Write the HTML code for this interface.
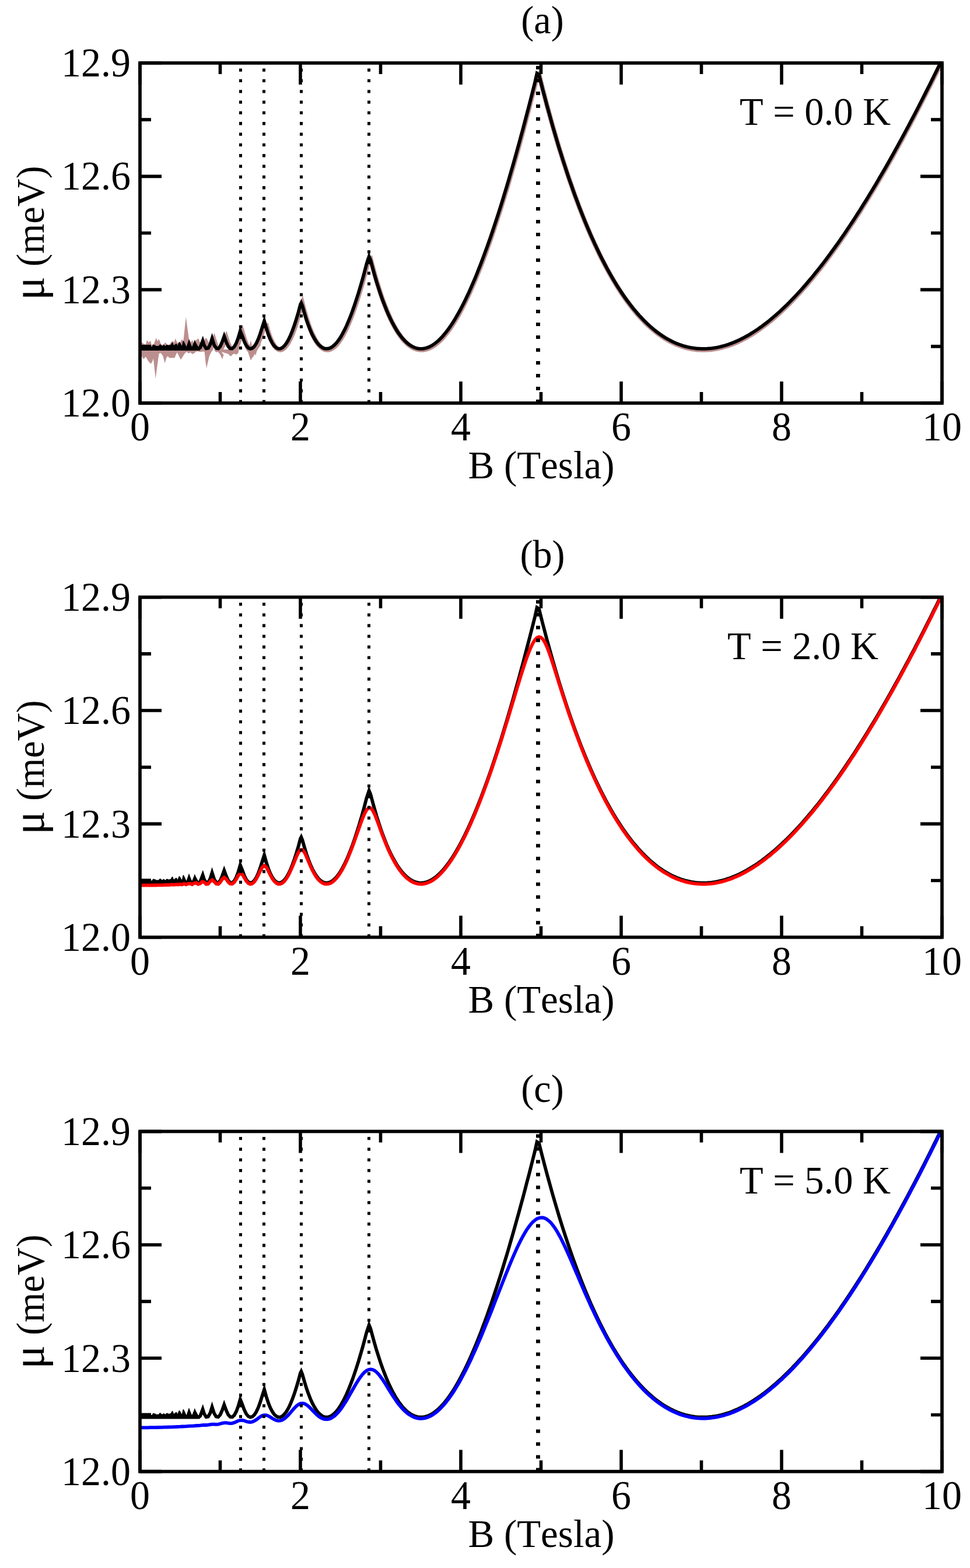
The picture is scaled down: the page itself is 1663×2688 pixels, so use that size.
<!DOCTYPE html>
<html lang="en">
<head>
<meta charset="utf-8">
<title>Chemical potential vs magnetic field</title>
<style>
html,body{margin:0;padding:0;background:#fff;}
body{width:1663px;height:2688px;overflow:hidden;}
svg{display:block;}
</style>
</head>
<body>
<svg width="1663" height="2688" viewBox="0 0 1663 2688">
<rect x="0" y="0" width="1663" height="2688" fill="#fff"/>
<defs><clipPath id="kclip"><path d="M240,100 H400 V600.9 H240Z M400,100 H1620 V700 H400Z"/></clipPath></defs>
<g transform="translate(0,0)">
<clipPath id="clip0"><rect x="240" y="108" width="1375" height="583"/></clipPath>
<g clip-path="url(#clip0)" fill="none" stroke-linejoin="miter" stroke-miterlimit="12">
<path d="M240.4,595.6 L242.9,586.1 L243.9,587.7 L246.6,589.3 L249.8,590.8 L251.9,582.9 L254.5,587.1 L256.6,585.6 L258.2,584.0 L259.8,591.4 L264.0,589.3 L267.7,579.2 L269.9,585.0 L272.5,581.3 L275.7,589.3 L278.3,591.4 L281.5,589.3 L284.1,587.1 L286.8,591.4 L291.0,590.3 L293.7,586.1 L296.8,584.5 L298.4,587.7 L300.6,580.3 L303.7,587.1 L306.9,589.3 L310.1,585.0 L311.7,581.3 L314.3,585.0 L315.9,570.2 L318.8,543.2 L321.7,564.9 L323.8,580.8 L327.0,586.1 L330.2,589.3 L334.4,585.0 L337.6,581.9 L340.2,580.3 L342.9,587.1 L347.1,593.5 L351.3,580.8 L354.0,579.2 L356.6,585.0 L359.8,589.3 L363.0,595.6 L363.0,598.0 L396.0,608.3 L391.6,605.1 L387.3,603.0 L383.6,608.3 L381.0,615.7 L377.8,608.3 L373.6,603.0 L370.4,604.1 L366.2,598.8 L363.0,602.0 L358.8,610.4 L356.1,622.1 L354.0,631.6 L352.4,619.9 L350.8,604.1 L348.2,600.9 L345.0,603.5 L340.8,602.0 L335.5,603.0 L332.3,606.2 L329.1,606.7 L327.0,604.1 L322.8,605.7 L320.7,603.0 L317.5,605.1 L313.2,611.5 L310.1,616.8 L306.9,610.4 L303.7,604.1 L301.6,608.3 L299.5,613.6 L290.0,613.6 L287.9,610.4 L285.7,612.5 L282.6,622.6 L279.4,610.4 L275.7,605.1 L272.5,606.2 L269.9,625.2 L266.7,649.0 L263.0,614.7 L261.4,618.9 L258.8,623.7 L254.5,619.4 L249.8,611.5 L246.1,615.7 L242.9,610.4 L240.4,595.6Z M380.0,599.0 L380.0,603.8 L383.6,608.6 L387.1,603.8 L390.7,606.2 L395.5,611.0 L399.0,607.4 L401.4,606.2 L405.0,608.0 L408.6,605.0 L410.4,594.3 L403.8,597.3 L393.1,599.0Z M419.3,587.1 L419.9,595.5 L421.7,599.0 L425.2,603.8 L427.6,611.0 L430.0,618.1 L432.4,613.3 L434.8,611.0 L436.5,606.2 L438.3,609.8 L440.1,602.6 L441.9,599.0 L446.7,591.9 L446.7,575.2 L441.9,587.1 L434.8,596.7 L429.4,599.0 L425.2,596.7Z M427.0,597.3 L430.0,583.0 L433.0,597.3Z" fill="#bc8f8f" stroke="none"/><path d="M240.0,599.7 L281.2,598.9 L284.7,599.6 L288.1,599.7 L291.6,599.7 L295.0,599.5 L298.4,598.0 L301.9,596.5 L305.3,599.5 L308.8,597.9 L312.2,597.7 L315.6,598.8 L319.1,597.2 L322.5,597.7 L325.9,598.8 L329.4,592.2 L332.8,599.4 L336.3,597.1 L339.7,591.2 L343.1,598.9 L346.6,598.6 L350.0,591.0 L353.4,593.0 L356.9,599.1 L360.3,598.8 L363.8,592.6 L367.2,583.3 L370.6,593.8 L374.1,599.0 L377.5,599.3 L380.9,594.9 L384.4,586.4 L387.8,578.8 L391.3,589.7 L394.7,596.5 L398.1,599.5 L401.6,599.0 L405.0,595.0 L408.4,587.9 L411.9,577.8 L415.3,569.0 L418.8,580.8 L422.2,589.7 L425.6,595.7 L429.1,598.9 L432.5,599.7 L435.9,598.0 L439.4,594.0 L442.8,587.8 L446.3,579.5 L449.7,569.2 L453.1,557.1 L456.6,557.7 L460.0,569.4 L463.4,579.1 L466.9,586.8 L470.3,592.6 L473.8,596.7 L477.2,599.0 L480.6,599.7 L484.1,598.8 L487.5,596.4 L490.9,592.6 L494.4,587.4 L497.8,580.8 L501.3,573.0 L504.7,563.9 L508.1,553.6 L511.6,542.2 L515.0,529.7 L518.4,520.3 L521.9,533.3 L525.3,545.1 L528.8,555.6 L532.2,564.8 L535.6,572.9 L539.1,579.9 L542.5,585.7 L545.9,590.5 L549.4,594.2 L552.8,597.0 L556.3,598.8 L559.7,599.6 L563.1,599.6 L566.6,598.7 L570.0,596.9 L573.4,594.3 L576.9,590.9 L580.3,586.7 L583.8,581.8 L587.2,576.2 L590.6,569.8 L594.1,562.8 L597.5,555.1 L600.9,546.7 L604.4,537.7 L607.8,528.1 L611.3,517.9 L614.7,507.2 L618.1,495.8 L621.6,483.9 L625.0,471.5 L628.4,458.6 L631.9,445.1 L635.3,443.7 L638.8,457.0 L642.2,469.6 L645.6,481.5 L649.1,492.7 L652.5,503.3 L655.9,513.2 L659.4,522.6 L662.8,531.3 L666.3,539.4 L669.7,547.0 L673.1,554.0 L676.6,560.4 L680.0,566.3 L683.4,571.7 L686.9,576.6 L690.3,581.0 L693.8,584.9 L697.2,588.3 L700.6,591.2 L704.1,593.7 L707.5,595.8 L710.9,597.4 L714.4,598.6 L717.8,599.3 L721.3,599.7 L724.7,599.6 L728.1,599.2 L731.6,598.4 L735.0,597.2 L738.4,595.6 L741.9,593.7 L745.3,591.4 L748.8,588.8 L752.2,585.8 L755.6,582.5 L759.1,578.9 L762.5,574.9 L765.9,570.7 L769.4,566.1 L772.8,561.3 L776.3,556.1 L779.7,550.6 L783.1,544.9 L786.6,538.9 L790.0,532.6 L793.4,526.0 L796.9,519.2 L800.3,512.1 L803.8,504.8 L807.2,497.2 L810.6,489.4 L814.1,481.3 L817.5,473.0 L820.9,464.5 L824.4,455.7 L827.8,446.7 L831.3,437.5 L834.7,428.1 L838.1,418.4 L841.6,408.6 L845.0,398.5 L848.4,388.3 L851.9,377.8 L855.3,367.2 L858.8,356.3 L862.2,345.3 L865.6,334.1 L869.1,322.7 L872.5,311.1 L875.9,299.3 L879.4,287.4 L882.8,275.3 L886.3,263.0 L889.7,250.6 L893.1,238.0 L896.6,225.2 L900.0,212.3 L903.4,199.2 L906.9,186.0 L910.3,172.6 L913.8,159.1 L917.2,145.4 L920.6,131.6 L924.1,127.4 L927.5,141.2 L930.9,154.6 L934.4,167.8 L937.8,180.8 L941.3,193.4 L944.7,205.8 L948.1,218.0 L951.6,229.9 L955.0,241.5 L958.4,253.0 L961.9,264.1 L965.3,275.0 L968.8,285.7 L972.2,296.2 L975.6,306.4 L979.1,316.4 L982.5,326.2 L985.9,335.8 L989.4,345.1 L992.8,354.3 L996.3,363.2 L999.7,371.9 L1003.1,380.5 L1006.6,388.8 L1010.0,396.9 L1013.4,404.8 L1016.9,412.5 L1020.3,420.1 L1023.8,427.4 L1027.2,434.6 L1030.6,441.6 L1034.1,448.4 L1037.5,455.0 L1040.9,461.4 L1044.4,467.7 L1047.8,473.8 L1051.3,479.7 L1054.7,485.5 L1058.1,491.0 L1061.6,496.5 L1065.0,501.7 L1068.4,506.8 L1071.9,511.8 L1075.3,516.6 L1078.8,521.2 L1082.2,525.7 L1085.6,530.0 L1089.1,534.2 L1092.5,538.3 L1095.9,542.2 L1099.4,545.9 L1102.8,549.5 L1106.3,553.0 L1109.7,556.3 L1113.1,559.5 L1116.6,562.6 L1120.0,565.5 L1123.4,568.3 L1126.9,571.0 L1130.3,573.5 L1133.8,576.0 L1137.2,578.3 L1140.6,580.4 L1144.1,582.5 L1147.5,584.4 L1150.9,586.2 L1154.4,587.9 L1157.8,589.4 L1161.3,590.9 L1164.7,592.2 L1168.1,593.4 L1171.6,594.5 L1175.0,595.5 L1178.4,596.4 L1181.9,597.2 L1185.3,597.9 L1188.8,598.4 L1192.2,598.9 L1195.6,599.3 L1199.1,599.5 L1202.5,599.7 L1205.9,599.7 L1209.4,599.7 L1212.8,599.5 L1216.3,599.3 L1219.7,598.9 L1223.1,598.5 L1226.6,598.0 L1230.0,597.3 L1233.4,596.6 L1236.9,595.8 L1240.3,594.9 L1243.8,593.9 L1247.2,592.9 L1250.6,591.7 L1254.1,590.5 L1257.5,589.1 L1260.9,587.7 L1264.4,586.2 L1267.8,584.6 L1271.3,582.9 L1274.7,581.2 L1278.1,579.3 L1281.6,577.4 L1285.0,575.4 L1288.4,573.4 L1291.9,571.2 L1295.3,569.0 L1298.8,566.7 L1302.2,564.3 L1305.6,561.8 L1309.1,559.3 L1312.5,556.7 L1315.9,554.0 L1319.4,551.3 L1322.8,548.5 L1326.3,545.6 L1329.7,542.6 L1333.1,539.6 L1336.6,536.5 L1340.0,533.3 L1343.4,530.1 L1346.9,526.8 L1350.3,523.4 L1353.8,520.0 L1357.2,516.5 L1360.6,512.9 L1364.1,509.3 L1367.5,505.6 L1370.9,501.9 L1374.4,498.1 L1377.8,494.2 L1381.3,490.3 L1384.7,486.3 L1388.1,482.2 L1391.6,478.1 L1395.0,473.9 L1398.4,469.7 L1401.9,465.4 L1405.3,461.1 L1408.8,456.7 L1412.2,452.2 L1415.6,447.7 L1419.1,443.1 L1422.5,438.5 L1425.9,433.8 L1429.4,429.1 L1432.8,424.3 L1436.3,419.4 L1439.7,414.6 L1443.1,409.6 L1446.6,404.6 L1450.0,399.6 L1453.4,394.5 L1456.9,389.3 L1460.3,384.1 L1463.8,378.9 L1467.2,373.6 L1470.6,368.3 L1474.1,362.9 L1477.5,357.4 L1480.9,351.9 L1484.4,346.4 L1487.8,340.8 L1491.3,335.2 L1494.7,329.5 L1498.1,323.8 L1501.6,318.0 L1505.0,312.2 L1508.4,306.4 L1511.9,300.5 L1515.3,294.5 L1518.8,288.6 L1522.2,282.5 L1525.6,276.5 L1529.1,270.4 L1532.5,264.2 L1535.9,258.0 L1539.4,251.8 L1542.8,245.5 L1546.3,239.2 L1549.7,232.8 L1553.1,226.4 L1556.6,220.0 L1560.0,213.5 L1563.4,207.0 L1566.9,200.5 L1570.3,193.9 L1573.8,187.2 L1577.2,180.6 L1580.6,173.9 L1584.1,167.1 L1587.5,160.3 L1590.9,153.5 L1594.4,146.7 L1597.8,139.8 L1601.3,132.9 L1604.7,125.9 L1608.1,118.9 L1611.6,111.9 L1615.0,104.8" stroke="#bc8f8f" stroke-width="8.2"/>
<g clip-path="url(#kclip)"><path d="M240.0,590.9 L259.0,590.9 L259.1,593.9 L260.9,593.9 L261.4,592.1 L262.7,590.8 L264.0,591.0 L264.8,592.1 L265.6,590.8 L267.2,592.9 L272.0,592.9 L274.4,590.0 L276.5,591.8 L278.3,592.9 L280.7,590.8 L283.4,593.2 L285.2,591.0 L287.6,591.0 L288.4,591.8 L290.8,591.8 L291.3,590.8 L292.3,591.8 L294.2,588.4 L295.5,586.8 L296.8,588.4 L297.4,591.0 L298.4,591.8 L301.9,588.9 L304.0,590.5 L304.5,592.9 L305.3,590.0 L306.4,587.1 L307.4,586.0 L308.8,587.3 L310.9,591.0 L311.7,592.9 L312.5,590.0 L313.2,585.7 L314.6,583.9 L316.0,586.5 L319.6,594.3 L322.6,585.5 L324.0,581.3 L325.4,585.5 L329.1,594.5 L332.4,586.5 L333.9,582.2 L335.4,586.5 L340.0,594.6 L343.0,595.0 L343.0,600.8 L240.0,600.8 Z" fill="#000" stroke="none"/><path d="M240.0,597.9 L243.4,597.9 L246.9,597.9 L250.3,597.9 L253.8,597.9 L257.2,597.9 L260.6,597.9 L264.1,597.9 L267.5,597.9 L270.9,597.9 L274.4,597.9 L277.8,597.9 L281.2,597.9 L284.7,597.9 L288.1,597.9 L291.6,597.9 L295.0,597.9 L298.4,597.9 L301.9,597.9 L305.3,597.9 L308.8,597.9 L312.2,597.9 L315.6,597.9 L319.1,597.9 L322.5,597.9 L325.9,597.9 L329.4,597.9 L332.8,597.9 L336.2,597.9 L339.7,597.9 L343.1,596.1 L347.6,584.3 L350.0,592.0 L353.4,597.4 L356.9,596.9 L360.3,590.9 L363.6,580.4 L367.2,591.5 L370.6,596.9 L374.1,597.6 L377.5,593.9 L380.9,586.1 L384.3,576.5 L387.8,586.1 L391.2,593.6 L394.7,597.4 L398.1,597.6 L401.6,594.5 L405.0,588.4 L408.4,579.2 L411.9,567.3 L415.3,575.7 L418.8,585.3 L422.2,592.1 L425.6,596.3 L429.1,597.9 L432.5,597.1 L435.9,594.0 L439.4,588.7 L442.8,581.3 L446.2,571.9 L449.7,560.7 L453.1,550.2 L456.6,562.7 L460.0,573.2 L463.4,581.7 L466.9,588.3 L470.3,593.2 L473.8,596.3 L477.2,597.8 L480.6,597.7 L484.1,596.0 L487.5,592.9 L490.9,588.5 L494.4,582.6 L497.8,575.5 L501.2,567.1 L504.7,557.5 L508.1,546.8 L511.6,535.0 L515.0,522.1 L516.4,519.4 L518.4,524.3 L521.9,536.7 L525.3,547.9 L528.8,557.8 L532.2,566.5 L535.6,574.1 L539.1,580.5 L542.5,585.9 L545.9,590.3 L549.4,593.6 L552.8,596.0 L556.2,597.4 L559.7,597.9 L563.1,597.5 L566.6,596.3 L570.0,594.2 L573.4,591.3 L576.9,587.7 L580.3,583.3 L583.8,578.1 L587.2,572.2 L590.6,565.7 L594.1,558.4 L597.5,550.5 L600.9,542.0 L604.4,532.8 L607.8,523.0 L611.2,512.7 L614.7,501.8 L618.1,490.3 L621.6,478.3 L625.0,465.7 L628.4,452.6 L632.7,439.7 L635.3,446.0 L638.8,459.1 L642.2,471.4 L645.6,483.1 L649.1,494.1 L652.5,504.5 L655.9,514.2 L659.4,523.3 L662.8,531.9 L666.2,539.8 L669.7,547.2 L673.1,554.0 L676.6,560.3 L680.0,566.1 L683.4,571.3 L686.9,576.0 L690.3,580.3 L693.8,584.0 L697.2,587.3 L700.6,590.1 L704.1,592.5 L707.5,594.4 L710.9,595.9 L714.4,597.0 L717.8,597.7 L721.2,597.9 L724.7,597.8 L728.1,597.2 L731.6,596.3 L735.0,595.0 L738.4,593.4 L741.9,591.4 L745.3,589.0 L748.8,586.3 L752.2,583.3 L755.6,579.9 L759.1,576.2 L762.5,572.2 L765.9,567.9 L769.4,563.2 L772.8,558.3 L776.3,553.1 L779.7,547.6 L783.1,541.8 L786.6,535.7 L790.0,529.4 L793.4,522.8 L796.9,515.9 L800.3,508.8 L803.8,501.4 L807.2,493.8 L810.6,485.9 L814.1,477.8 L817.5,469.5 L820.9,460.9 L824.4,452.1 L827.8,443.0 L831.2,433.8 L834.7,424.3 L838.1,414.7 L841.6,404.8 L845.0,394.7 L848.4,384.4 L851.9,373.9 L855.3,363.3 L858.8,352.4 L862.2,341.3 L865.6,330.1 L869.1,318.7 L872.5,307.1 L875.9,295.3 L879.4,283.3 L882.8,271.2 L886.2,258.9 L889.7,246.5 L893.1,233.8 L896.6,221.1 L900.0,208.1 L903.4,195.0 L906.9,181.8 L910.3,168.4 L913.8,154.8 L917.2,141.2 L920.6,125.8 L924.1,128.1 L927.5,141.8 L930.9,155.2 L934.4,168.3 L937.8,181.2 L941.3,193.8 L944.7,206.1 L948.1,218.2 L951.6,230.1 L955.0,241.7 L958.4,253.1 L961.9,264.2 L965.3,275.0 L968.8,285.7 L972.2,296.1 L975.6,306.3 L979.1,316.3 L982.5,326.0 L985.9,335.5 L989.4,344.8 L992.8,353.9 L996.2,362.8 L999.7,371.5 L1003.1,380.0 L1006.6,388.3 L1010.0,396.3 L1013.4,404.2 L1016.9,411.9 L1020.3,419.4 L1023.8,426.7 L1027.2,433.9 L1030.6,440.8 L1034.1,447.6 L1037.5,454.2 L1040.9,460.6 L1044.4,466.8 L1047.8,472.9 L1051.2,478.8 L1054.7,484.5 L1058.1,490.1 L1061.6,495.5 L1065.0,500.7 L1068.4,505.8 L1071.9,510.7 L1075.3,515.5 L1078.8,520.1 L1082.2,524.5 L1085.6,528.8 L1089.1,533.0 L1092.5,537.0 L1095.9,540.9 L1099.4,544.6 L1102.8,548.2 L1106.3,551.7 L1109.7,555.0 L1113.1,558.2 L1116.6,561.2 L1120.0,564.1 L1123.4,566.9 L1126.9,569.6 L1130.3,572.1 L1133.8,574.5 L1137.2,576.8 L1140.6,578.9 L1144.1,580.9 L1147.5,582.8 L1150.9,584.6 L1154.4,586.3 L1157.8,587.8 L1161.2,589.3 L1164.7,590.6 L1168.1,591.8 L1171.6,592.9 L1175.0,593.9 L1178.4,594.7 L1181.9,595.5 L1185.3,596.2 L1188.8,596.7 L1192.2,597.2 L1195.6,597.5 L1199.1,597.7 L1202.5,597.9 L1205.9,597.9 L1209.4,597.9 L1212.8,597.7 L1216.2,597.4 L1219.7,597.1 L1223.1,596.6 L1226.6,596.1 L1230.0,595.5 L1233.4,594.7 L1236.9,593.9 L1240.3,593.0 L1243.8,592.0 L1247.2,590.9 L1250.6,589.8 L1254.1,588.5 L1257.5,587.1 L1260.9,585.7 L1264.4,584.2 L1267.8,582.6 L1271.2,580.9 L1274.7,579.2 L1278.1,577.3 L1281.6,575.4 L1285.0,573.4 L1288.4,571.3 L1291.9,569.1 L1295.3,566.9 L1298.8,564.6 L1302.2,562.2 L1305.6,559.8 L1309.1,557.2 L1312.5,554.6 L1315.9,551.9 L1319.4,549.2 L1322.8,546.3 L1326.2,543.4 L1329.7,540.5 L1333.1,537.4 L1336.6,534.3 L1340.0,531.2 L1343.4,527.9 L1346.9,524.6 L1350.3,521.3 L1353.8,517.8 L1357.2,514.3 L1360.6,510.7 L1364.1,507.1 L1367.5,503.4 L1370.9,499.7 L1374.4,495.9 L1377.8,492.0 L1381.3,488.0 L1384.7,484.0 L1388.1,480.0 L1391.6,475.9 L1395.0,471.7 L1398.4,467.4 L1401.9,463.2 L1405.3,458.8 L1408.8,454.4 L1412.2,449.9 L1415.6,445.4 L1419.1,440.8 L1422.5,436.2 L1425.9,431.5 L1429.4,426.8 L1432.8,422.0 L1436.3,417.2 L1439.7,412.3 L1443.1,407.3 L1446.6,402.3 L1450.0,397.3 L1453.4,392.2 L1456.9,387.0 L1460.3,381.8 L1463.8,376.6 L1467.2,371.3 L1470.6,365.9 L1474.1,360.5 L1477.5,355.1 L1480.9,349.6 L1484.4,344.1 L1487.8,338.5 L1491.2,332.8 L1494.7,327.2 L1498.1,321.5 L1501.6,315.7 L1505.0,309.9 L1508.4,304.0 L1511.9,298.1 L1515.3,292.2 L1518.8,286.2 L1522.2,280.2 L1525.6,274.1 L1529.1,268.0 L1532.5,261.8 L1535.9,255.6 L1539.4,249.4 L1542.8,243.1 L1546.2,236.8 L1549.7,230.4 L1553.1,224.0 L1556.6,217.6 L1560.0,211.1 L1563.4,204.6 L1566.9,198.1 L1570.3,191.5 L1573.8,184.8 L1577.2,178.2 L1580.6,171.5 L1584.1,164.7 L1587.5,157.9 L1590.9,151.1 L1594.4,144.3 L1597.8,137.4 L1601.2,130.4 L1604.7,123.5 L1608.1,116.5 L1611.6,109.4 L1615.0,102.4" stroke="#000" stroke-width="5.8"/></g>
</g>
<line x1="922.5" y1="691" x2="922.5" y2="108" stroke="#000" stroke-width="7" stroke-dasharray="6 16"/>
<line x1="632.5" y1="691" x2="632.5" y2="108" stroke="#000" stroke-width="5" stroke-dasharray="5.3 13.03"/>
<line x1="516.5" y1="691" x2="516.5" y2="108" stroke="#000" stroke-width="5" stroke-dasharray="5.3 13.03"/>
<line x1="452.5" y1="691" x2="452.5" y2="108" stroke="#000" stroke-width="5" stroke-dasharray="5.3 13.03"/>
<line x1="412.5" y1="691" x2="412.5" y2="108" stroke="#000" stroke-width="5" stroke-dasharray="5.3 13.03"/>
<path d="M240,691 v-37 M240,108 v37 M377.5,691 v-19 M377.5,108 v19 M515,691 v-37 M515,108 v37 M652.5,691 v-19 M652.5,108 v19 M790,691 v-37 M790,108 v37 M927.5,691 v-19 M927.5,108 v19 M1065,691 v-37 M1065,108 v37 M1202.5,691 v-19 M1202.5,108 v19 M1340,691 v-37 M1340,108 v37 M1477.5,691 v-19 M1477.5,108 v19 M1615,691 v-37 M1615,108 v37" stroke="#000" stroke-width="5.6" fill="none"/>
<path d="M240,691.00 h37 M1615,691.00 h-37 M240,593.83 h19 M1615,593.83 h-19 M240,496.67 h37 M1615,496.67 h-37 M240,399.50 h19 M1615,399.50 h-19 M240,302.33 h37 M1615,302.33 h-37 M240,205.17 h19 M1615,205.17 h-19 M240,108.00 h37 M1615,108.00 h-37" stroke="#000" stroke-width="5.6" fill="none"/>
<rect x="240" y="108" width="1375" height="583" fill="none" stroke="#000" stroke-width="5.7"/>
<g transform="translate(0,0.00)" font-family='"Liberation Serif", "DejaVu Serif", serif' font-size="67.8" fill="#000" style="font-kerning:none;font-variant-ligatures:none">
<text transform="translate(240.00,755.30) scale(0.985,1)" text-anchor="middle" font-size="69">0</text>
<text transform="translate(515.00,755.30) scale(0.985,1)" text-anchor="middle" font-size="69">2</text>
<text transform="translate(790.00,755.30) scale(0.985,1)" text-anchor="middle" font-size="69">4</text>
<text transform="translate(1065.00,755.30) scale(0.985,1)" text-anchor="middle" font-size="69">6</text>
<text transform="translate(1340.00,755.30) scale(0.985,1)" text-anchor="middle" font-size="69">8</text>
<text transform="translate(1615.00,755.30) scale(0.985,1)" text-anchor="middle" font-size="69">10</text>
<text transform="translate(224.00,714.00) scale(0.985,1)" text-anchor="end" font-size="69">12.0</text>
<text transform="translate(224.00,519.67) scale(0.985,1)" text-anchor="end" font-size="69">12.3</text>
<text transform="translate(224.00,325.33) scale(0.985,1)" text-anchor="end" font-size="69">12.6</text>
<text transform="translate(224.00,131.00) scale(0.985,1)" text-anchor="end" font-size="69">12.9</text>
<text transform="translate(930.00,57.20) scale(0.976,1)" text-anchor="middle">(a)</text>
<text transform="translate(928.00,820.40) scale(0.988,1)" text-anchor="middle">B (Tesla)</text>
<text transform="translate(74.80,514.60) rotate(-90) scale(0.976,1)"><tspan font-size="77">μ</tspan> <tspan x="59.02">(meV)</tspan></text>
<text transform="translate(1268.00,214.10) scale(0.981,1)">T = 0.0 K</text>
</g>
</g>
<g transform="translate(0,915.7)">
<clipPath id="clip1"><rect x="240" y="108" width="1375" height="583"/></clipPath>
<g clip-path="url(#clip1)" fill="none" stroke-linejoin="miter" stroke-miterlimit="12">
<g clip-path="url(#kclip)"><path d="M240.0,590.9 L259.0,590.9 L259.1,593.9 L260.9,593.9 L261.4,592.1 L262.7,590.8 L264.0,591.0 L264.8,592.1 L265.6,590.8 L267.2,592.9 L272.0,592.9 L274.4,590.0 L276.5,591.8 L278.3,592.9 L280.7,590.8 L283.4,593.2 L285.2,591.0 L287.6,591.0 L288.4,591.8 L290.8,591.8 L291.3,590.8 L292.3,591.8 L294.2,588.4 L295.5,586.8 L296.8,588.4 L297.4,591.0 L298.4,591.8 L301.9,588.9 L304.0,590.5 L304.5,592.9 L305.3,590.0 L306.4,587.1 L307.4,586.0 L308.8,587.3 L310.9,591.0 L311.7,592.9 L312.5,590.0 L313.2,585.7 L314.6,583.9 L316.0,586.5 L319.6,594.3 L322.6,585.5 L324.0,581.3 L325.4,585.5 L329.1,594.5 L332.4,586.5 L333.9,582.2 L335.4,586.5 L340.0,594.6 L343.0,595.0 L343.0,600.8 L240.0,600.8 Z" fill="#000" stroke="none"/><path d="M240.0,597.9 L243.4,597.9 L246.9,597.9 L250.3,597.9 L253.8,597.9 L257.2,597.9 L260.6,597.9 L264.1,597.9 L267.5,597.9 L270.9,597.9 L274.4,597.9 L277.8,597.9 L281.2,597.9 L284.7,597.9 L288.1,597.9 L291.6,597.9 L295.0,597.9 L298.4,597.9 L301.9,597.9 L305.3,597.9 L308.8,597.9 L312.2,597.9 L315.6,597.9 L319.1,597.9 L322.5,597.9 L325.9,597.9 L329.4,597.9 L332.8,597.9 L336.2,597.9 L339.7,597.9 L343.1,596.1 L347.6,584.3 L350.0,592.0 L353.4,597.4 L356.9,596.9 L360.3,590.9 L363.6,580.4 L367.2,591.5 L370.6,596.9 L374.1,597.6 L377.5,593.9 L380.9,586.1 L384.3,576.5 L387.8,586.1 L391.2,593.6 L394.7,597.4 L398.1,597.6 L401.6,594.5 L405.0,588.4 L408.4,579.2 L411.9,567.3 L415.3,575.7 L418.8,585.3 L422.2,592.1 L425.6,596.3 L429.1,597.9 L432.5,597.1 L435.9,594.0 L439.4,588.7 L442.8,581.3 L446.2,571.9 L449.7,560.7 L453.1,550.2 L456.6,562.7 L460.0,573.2 L463.4,581.7 L466.9,588.3 L470.3,593.2 L473.8,596.3 L477.2,597.8 L480.6,597.7 L484.1,596.0 L487.5,592.9 L490.9,588.5 L494.4,582.6 L497.8,575.5 L501.2,567.1 L504.7,557.5 L508.1,546.8 L511.6,535.0 L515.0,522.1 L516.4,519.4 L518.4,524.3 L521.9,536.7 L525.3,547.9 L528.8,557.8 L532.2,566.5 L535.6,574.1 L539.1,580.5 L542.5,585.9 L545.9,590.3 L549.4,593.6 L552.8,596.0 L556.2,597.4 L559.7,597.9 L563.1,597.5 L566.6,596.3 L570.0,594.2 L573.4,591.3 L576.9,587.7 L580.3,583.3 L583.8,578.1 L587.2,572.2 L590.6,565.7 L594.1,558.4 L597.5,550.5 L600.9,542.0 L604.4,532.8 L607.8,523.0 L611.2,512.7 L614.7,501.8 L618.1,490.3 L621.6,478.3 L625.0,465.7 L628.4,452.6 L632.7,439.7 L635.3,446.0 L638.8,459.1 L642.2,471.4 L645.6,483.1 L649.1,494.1 L652.5,504.5 L655.9,514.2 L659.4,523.3 L662.8,531.9 L666.2,539.8 L669.7,547.2 L673.1,554.0 L676.6,560.3 L680.0,566.1 L683.4,571.3 L686.9,576.0 L690.3,580.3 L693.8,584.0 L697.2,587.3 L700.6,590.1 L704.1,592.5 L707.5,594.4 L710.9,595.9 L714.4,597.0 L717.8,597.7 L721.2,597.9 L724.7,597.8 L728.1,597.2 L731.6,596.3 L735.0,595.0 L738.4,593.4 L741.9,591.4 L745.3,589.0 L748.8,586.3 L752.2,583.3 L755.6,579.9 L759.1,576.2 L762.5,572.2 L765.9,567.9 L769.4,563.2 L772.8,558.3 L776.3,553.1 L779.7,547.6 L783.1,541.8 L786.6,535.7 L790.0,529.4 L793.4,522.8 L796.9,515.9 L800.3,508.8 L803.8,501.4 L807.2,493.8 L810.6,485.9 L814.1,477.8 L817.5,469.5 L820.9,460.9 L824.4,452.1 L827.8,443.0 L831.2,433.8 L834.7,424.3 L838.1,414.7 L841.6,404.8 L845.0,394.7 L848.4,384.4 L851.9,373.9 L855.3,363.3 L858.8,352.4 L862.2,341.3 L865.6,330.1 L869.1,318.7 L872.5,307.1 L875.9,295.3 L879.4,283.3 L882.8,271.2 L886.2,258.9 L889.7,246.5 L893.1,233.8 L896.6,221.1 L900.0,208.1 L903.4,195.0 L906.9,181.8 L910.3,168.4 L913.8,154.8 L917.2,141.2 L920.6,125.8 L924.1,128.1 L927.5,141.8 L930.9,155.2 L934.4,168.3 L937.8,181.2 L941.3,193.8 L944.7,206.1 L948.1,218.2 L951.6,230.1 L955.0,241.7 L958.4,253.1 L961.9,264.2 L965.3,275.0 L968.8,285.7 L972.2,296.1 L975.6,306.3 L979.1,316.3 L982.5,326.0 L985.9,335.5 L989.4,344.8 L992.8,353.9 L996.2,362.8 L999.7,371.5 L1003.1,380.0 L1006.6,388.3 L1010.0,396.3 L1013.4,404.2 L1016.9,411.9 L1020.3,419.4 L1023.8,426.7 L1027.2,433.9 L1030.6,440.8 L1034.1,447.6 L1037.5,454.2 L1040.9,460.6 L1044.4,466.8 L1047.8,472.9 L1051.2,478.8 L1054.7,484.5 L1058.1,490.1 L1061.6,495.5 L1065.0,500.7 L1068.4,505.8 L1071.9,510.7 L1075.3,515.5 L1078.8,520.1 L1082.2,524.5 L1085.6,528.8 L1089.1,533.0 L1092.5,537.0 L1095.9,540.9 L1099.4,544.6 L1102.8,548.2 L1106.3,551.7 L1109.7,555.0 L1113.1,558.2 L1116.6,561.2 L1120.0,564.1 L1123.4,566.9 L1126.9,569.6 L1130.3,572.1 L1133.8,574.5 L1137.2,576.8 L1140.6,578.9 L1144.1,580.9 L1147.5,582.8 L1150.9,584.6 L1154.4,586.3 L1157.8,587.8 L1161.2,589.3 L1164.7,590.6 L1168.1,591.8 L1171.6,592.9 L1175.0,593.9 L1178.4,594.7 L1181.9,595.5 L1185.3,596.2 L1188.8,596.7 L1192.2,597.2 L1195.6,597.5 L1199.1,597.7 L1202.5,597.9 L1205.9,597.9 L1209.4,597.9 L1212.8,597.7 L1216.2,597.4 L1219.7,597.1 L1223.1,596.6 L1226.6,596.1 L1230.0,595.5 L1233.4,594.7 L1236.9,593.9 L1240.3,593.0 L1243.8,592.0 L1247.2,590.9 L1250.6,589.8 L1254.1,588.5 L1257.5,587.1 L1260.9,585.7 L1264.4,584.2 L1267.8,582.6 L1271.2,580.9 L1274.7,579.2 L1278.1,577.3 L1281.6,575.4 L1285.0,573.4 L1288.4,571.3 L1291.9,569.1 L1295.3,566.9 L1298.8,564.6 L1302.2,562.2 L1305.6,559.8 L1309.1,557.2 L1312.5,554.6 L1315.9,551.9 L1319.4,549.2 L1322.8,546.3 L1326.2,543.4 L1329.7,540.5 L1333.1,537.4 L1336.6,534.3 L1340.0,531.2 L1343.4,527.9 L1346.9,524.6 L1350.3,521.3 L1353.8,517.8 L1357.2,514.3 L1360.6,510.7 L1364.1,507.1 L1367.5,503.4 L1370.9,499.7 L1374.4,495.9 L1377.8,492.0 L1381.3,488.0 L1384.7,484.0 L1388.1,480.0 L1391.6,475.9 L1395.0,471.7 L1398.4,467.4 L1401.9,463.2 L1405.3,458.8 L1408.8,454.4 L1412.2,449.9 L1415.6,445.4 L1419.1,440.8 L1422.5,436.2 L1425.9,431.5 L1429.4,426.8 L1432.8,422.0 L1436.3,417.2 L1439.7,412.3 L1443.1,407.3 L1446.6,402.3 L1450.0,397.3 L1453.4,392.2 L1456.9,387.0 L1460.3,381.8 L1463.8,376.6 L1467.2,371.3 L1470.6,365.9 L1474.1,360.5 L1477.5,355.1 L1480.9,349.6 L1484.4,344.1 L1487.8,338.5 L1491.2,332.8 L1494.7,327.2 L1498.1,321.5 L1501.6,315.7 L1505.0,309.9 L1508.4,304.0 L1511.9,298.1 L1515.3,292.2 L1518.8,286.2 L1522.2,280.2 L1525.6,274.1 L1529.1,268.0 L1532.5,261.8 L1535.9,255.6 L1539.4,249.4 L1542.8,243.1 L1546.2,236.8 L1549.7,230.4 L1553.1,224.0 L1556.6,217.6 L1560.0,211.1 L1563.4,204.6 L1566.9,198.1 L1570.3,191.5 L1573.8,184.8 L1577.2,178.2 L1580.6,171.5 L1584.1,164.7 L1587.5,157.9 L1590.9,151.1 L1594.4,144.3 L1597.8,137.4 L1601.2,130.4 L1604.7,123.5 L1608.1,116.5 L1611.6,109.4 L1615.0,102.4" stroke="#000" stroke-width="5.8"/></g>
<path d="M240.0,602.0 L243.4,602.0 L246.9,602.0 L250.3,602.0 L253.8,602.0 L257.2,601.9 L260.6,601.9 L264.1,601.8 L267.5,601.8 L270.9,601.7 L274.4,601.7 L277.8,601.6 L281.2,601.4 L284.7,601.2 L288.1,601.3 L291.6,601.2 L295.0,600.7 L298.4,601.1 L301.9,600.4 L305.3,600.8 L308.8,600.1 L312.2,600.7 L315.6,599.3 L319.1,600.7 L322.5,599.1 L325.9,599.0 L329.4,600.5 L332.8,598.2 L336.2,597.7 L339.7,600.2 L343.1,599.1 L346.6,595.7 L350.0,596.7 L353.4,599.9 L356.9,599.5 L360.3,595.5 L363.8,592.7 L367.2,595.5 L370.6,599.3 L374.1,599.9 L377.5,596.8 L380.9,591.5 L384.4,588.5 L387.8,591.2 L391.2,596.3 L394.7,599.5 L398.1,599.7 L401.6,596.9 L405.0,591.6 L408.4,585.3 L411.9,581.5 L415.3,583.1 L418.8,588.8 L422.2,594.5 L425.6,598.4 L429.1,599.9 L432.5,599.1 L435.9,596.1 L439.4,591.1 L442.8,584.5 L446.2,577.1 L449.7,570.8 L453.1,568.2 L456.6,570.9 L460.0,577.2 L463.4,584.3 L466.9,590.5 L470.3,595.2 L473.8,598.3 L477.2,599.8 L480.6,599.7 L484.1,598.1 L487.5,595.0 L490.9,590.5 L494.4,584.8 L497.8,577.9 L501.2,570.1 L504.7,561.6 L508.1,553.1 L511.6,545.8 L515.0,541.3 L518.4,541.1 L521.9,545.4 L525.3,552.6 L528.8,560.9 L532.2,568.9 L535.6,576.3 L539.1,582.6 L542.5,588.0 L545.9,592.3 L549.4,595.6 L552.8,598.0 L556.2,599.4 L559.7,599.9 L563.1,599.5 L566.6,598.3 L570.0,596.2 L573.4,593.4 L576.9,589.7 L580.3,585.3 L583.8,580.1 L587.2,574.3 L590.6,567.7 L594.1,560.5 L597.5,552.7 L600.9,544.3 L604.4,535.3 L607.8,525.9 L611.2,516.2 L614.7,506.3 L618.1,496.5 L621.6,487.2 L625.0,479.1 L628.4,472.8 L631.9,469.4 L635.3,469.5 L638.8,473.2 L642.2,479.9 L645.6,488.4 L649.1,497.7 L652.5,507.3 L655.9,516.6 L659.4,525.5 L662.8,534.0 L666.2,541.9 L669.7,549.2 L673.1,556.0 L676.6,562.3 L680.0,568.1 L683.4,573.3 L686.9,578.0 L690.3,582.3 L693.8,586.0 L697.2,589.3 L700.6,592.1 L704.1,594.5 L707.5,596.4 L710.9,597.9 L714.4,599.0 L717.8,599.7 L721.2,599.9 L724.7,599.8 L728.1,599.2 L731.6,598.3 L735.0,597.0 L738.4,595.4 L741.9,593.4 L745.3,591.0 L748.8,588.3 L752.2,585.3 L755.6,581.9 L759.1,578.2 L762.5,574.2 L765.9,569.9 L769.4,565.2 L772.8,560.3 L776.3,555.1 L779.7,549.6 L783.1,543.8 L786.6,537.7 L790.0,531.4 L793.4,524.8 L796.9,517.9 L800.3,510.8 L803.8,503.4 L807.2,495.8 L810.6,487.9 L814.1,479.8 L817.5,471.5 L820.9,462.9 L824.4,454.1 L827.8,445.1 L831.2,435.8 L834.7,426.4 L838.1,416.7 L841.6,406.9 L845.0,396.8 L848.4,386.6 L851.9,376.2 L855.3,365.6 L858.8,354.8 L862.2,343.9 L865.6,332.8 L869.1,321.6 L872.5,310.4 L875.9,299.0 L879.4,287.5 L882.8,276.1 L886.2,264.7 L889.7,253.4 L893.1,242.2 L896.6,231.3 L900.0,220.9 L903.4,210.9 L906.9,201.7 L910.3,193.5 L913.8,186.4 L917.2,181.0 L920.6,177.4 L924.1,176.0 L927.5,177.0 L930.9,180.4 L934.4,186.0 L937.8,193.5 L941.3,202.5 L944.7,212.4 L948.1,222.9 L951.6,233.8 L955.0,244.7 L958.4,255.7 L961.9,266.6 L965.3,277.3 L968.8,287.8 L972.2,298.2 L975.6,308.4 L979.1,318.3 L982.5,328.0 L985.9,337.5 L989.4,346.8 L992.8,355.9 L996.2,364.8 L999.7,373.5 L1003.1,382.0 L1006.6,390.3 L1010.0,398.3 L1013.4,406.2 L1016.9,413.9 L1020.3,421.4 L1023.8,428.7 L1027.2,435.9 L1030.6,442.8 L1034.1,449.6 L1037.5,456.2 L1040.9,462.6 L1044.4,468.8 L1047.8,474.9 L1051.2,480.8 L1054.7,486.5 L1058.1,492.1 L1061.6,497.5 L1065.0,502.7 L1068.4,507.8 L1071.9,512.7 L1075.3,517.5 L1078.8,522.1 L1082.2,526.5 L1085.6,530.8 L1089.1,535.0 L1092.5,539.0 L1095.9,542.9 L1099.4,546.6 L1102.8,550.2 L1106.3,553.7 L1109.7,557.0 L1113.1,560.2 L1116.6,563.2 L1120.0,566.1 L1123.4,568.9 L1126.9,571.6 L1130.3,574.1 L1133.8,576.5 L1137.2,578.8 L1140.6,580.9 L1144.1,582.9 L1147.5,584.8 L1150.9,586.6 L1154.4,588.3 L1157.8,589.8 L1161.2,591.3 L1164.7,592.6 L1168.1,593.8 L1171.6,594.9 L1175.0,595.9 L1178.4,596.7 L1181.9,597.5 L1185.3,598.2 L1188.8,598.7 L1192.2,599.2 L1195.6,599.5 L1199.1,599.7 L1202.5,599.9 L1205.9,599.9 L1209.4,599.9 L1212.8,599.7 L1216.2,599.4 L1219.7,599.1 L1223.1,598.6 L1226.6,598.1 L1230.0,597.5 L1233.4,596.7 L1236.9,595.9 L1240.3,595.0 L1243.8,594.0 L1247.2,592.9 L1250.6,591.8 L1254.1,590.5 L1257.5,589.1 L1260.9,587.7 L1264.4,586.2 L1267.8,584.6 L1271.2,582.9 L1274.7,581.2 L1278.1,579.3 L1281.6,577.4 L1285.0,575.4 L1288.4,573.3 L1291.9,571.1 L1295.3,568.9 L1298.8,566.6 L1302.2,564.2 L1305.6,561.8 L1309.1,559.2 L1312.5,556.6 L1315.9,553.9 L1319.4,551.2 L1322.8,548.3 L1326.2,545.4 L1329.7,542.5 L1333.1,539.4 L1336.6,536.3 L1340.0,533.2 L1343.4,529.9 L1346.9,526.6 L1350.3,523.3 L1353.8,519.8 L1357.2,516.3 L1360.6,512.7 L1364.1,509.1 L1367.5,505.4 L1370.9,501.7 L1374.4,497.9 L1377.8,494.0 L1381.3,490.0 L1384.7,486.0 L1388.1,482.0 L1391.6,477.9 L1395.0,473.7 L1398.4,469.4 L1401.9,465.2 L1405.3,460.8 L1408.8,456.4 L1412.2,451.9 L1415.6,447.4 L1419.1,442.8 L1422.5,438.2 L1425.9,433.5 L1429.4,428.8 L1432.8,424.0 L1436.3,419.2 L1439.7,414.3 L1443.1,409.3 L1446.6,404.3 L1450.0,399.3 L1453.4,394.2 L1456.9,389.0 L1460.3,383.8 L1463.8,378.6 L1467.2,373.3 L1470.6,367.9 L1474.1,362.5 L1477.5,357.1 L1480.9,351.6 L1484.4,346.1 L1487.8,340.5 L1491.2,334.8 L1494.7,329.2 L1498.1,323.5 L1501.6,317.7 L1505.0,311.9 L1508.4,306.0 L1511.9,300.1 L1515.3,294.2 L1518.8,288.2 L1522.2,282.2 L1525.6,276.1 L1529.1,270.0 L1532.5,263.8 L1535.9,257.6 L1539.4,251.4 L1542.8,245.1 L1546.2,238.8 L1549.7,232.4 L1553.1,226.0 L1556.6,219.6 L1560.0,213.1 L1563.4,206.6 L1566.9,200.1 L1570.3,193.5 L1573.8,186.8 L1577.2,180.2 L1580.6,173.5 L1584.1,166.7 L1587.5,159.9 L1590.9,153.1 L1594.4,146.3 L1597.8,139.4 L1601.2,132.4 L1604.7,125.5 L1608.1,118.5 L1611.6,111.4 L1615.0,104.4" stroke="#f00" stroke-width="5.8"/>
</g>
<line x1="922.5" y1="691" x2="922.5" y2="108" stroke="#000" stroke-width="7" stroke-dasharray="6 16"/>
<line x1="632.5" y1="691" x2="632.5" y2="108" stroke="#000" stroke-width="5" stroke-dasharray="5.3 13.03"/>
<line x1="516.5" y1="691" x2="516.5" y2="108" stroke="#000" stroke-width="5" stroke-dasharray="5.3 13.03"/>
<line x1="452.5" y1="691" x2="452.5" y2="108" stroke="#000" stroke-width="5" stroke-dasharray="5.3 13.03"/>
<line x1="412.5" y1="691" x2="412.5" y2="108" stroke="#000" stroke-width="5" stroke-dasharray="5.3 13.03"/>
<path d="M240,691 v-37 M240,108 v37 M377.5,691 v-19 M377.5,108 v19 M515,691 v-37 M515,108 v37 M652.5,691 v-19 M652.5,108 v19 M790,691 v-37 M790,108 v37 M927.5,691 v-19 M927.5,108 v19 M1065,691 v-37 M1065,108 v37 M1202.5,691 v-19 M1202.5,108 v19 M1340,691 v-37 M1340,108 v37 M1477.5,691 v-19 M1477.5,108 v19 M1615,691 v-37 M1615,108 v37" stroke="#000" stroke-width="5.6" fill="none"/>
<path d="M240,691.00 h37 M1615,691.00 h-37 M240,593.83 h19 M1615,593.83 h-19 M240,496.67 h37 M1615,496.67 h-37 M240,399.50 h19 M1615,399.50 h-19 M240,302.33 h37 M1615,302.33 h-37 M240,205.17 h19 M1615,205.17 h-19 M240,108.00 h37 M1615,108.00 h-37" stroke="#000" stroke-width="5.6" fill="none"/>
<rect x="240" y="108" width="1375" height="583" fill="none" stroke="#000" stroke-width="5.7"/>
<g transform="translate(0,0.30)" font-family='"Liberation Serif", "DejaVu Serif", serif' font-size="67.8" fill="#000" style="font-kerning:none;font-variant-ligatures:none">
<text transform="translate(240.00,755.30) scale(0.985,1)" text-anchor="middle" font-size="69">0</text>
<text transform="translate(515.00,755.30) scale(0.985,1)" text-anchor="middle" font-size="69">2</text>
<text transform="translate(790.00,755.30) scale(0.985,1)" text-anchor="middle" font-size="69">4</text>
<text transform="translate(1065.00,755.30) scale(0.985,1)" text-anchor="middle" font-size="69">6</text>
<text transform="translate(1340.00,755.30) scale(0.985,1)" text-anchor="middle" font-size="69">8</text>
<text transform="translate(1615.00,755.30) scale(0.985,1)" text-anchor="middle" font-size="69">10</text>
<text transform="translate(224.00,714.00) scale(0.985,1)" text-anchor="end" font-size="69">12.0</text>
<text transform="translate(224.00,519.67) scale(0.985,1)" text-anchor="end" font-size="69">12.3</text>
<text transform="translate(224.00,325.33) scale(0.985,1)" text-anchor="end" font-size="69">12.6</text>
<text transform="translate(224.00,131.00) scale(0.985,1)" text-anchor="end" font-size="69">12.9</text>
<text transform="translate(930.00,57.20) scale(0.976,1)" text-anchor="middle">(b)</text>
<text transform="translate(928.00,820.40) scale(0.988,1)" text-anchor="middle">B (Tesla)</text>
<text transform="translate(74.80,514.60) rotate(-90) scale(0.976,1)"><tspan font-size="77">μ</tspan> <tspan x="59.02">(meV)</tspan></text>
<text transform="translate(1247.00,214.10) scale(0.981,1)">T = 2.0 K</text>
</g>
</g>
<g transform="translate(0,1831.6)">
<clipPath id="clip2"><rect x="240" y="108" width="1375" height="583"/></clipPath>
<g clip-path="url(#clip2)" fill="none" stroke-linejoin="miter" stroke-miterlimit="12">
<g clip-path="url(#kclip)"><path d="M240.0,590.9 L259.0,590.9 L259.1,593.9 L260.9,593.9 L261.4,592.1 L262.7,590.8 L264.0,591.0 L264.8,592.1 L265.6,590.8 L267.2,592.9 L272.0,592.9 L274.4,590.0 L276.5,591.8 L278.3,592.9 L280.7,590.8 L283.4,593.2 L285.2,591.0 L287.6,591.0 L288.4,591.8 L290.8,591.8 L291.3,590.8 L292.3,591.8 L294.2,588.4 L295.5,586.8 L296.8,588.4 L297.4,591.0 L298.4,591.8 L301.9,588.9 L304.0,590.5 L304.5,592.9 L305.3,590.0 L306.4,587.1 L307.4,586.0 L308.8,587.3 L310.9,591.0 L311.7,592.9 L312.5,590.0 L313.2,585.7 L314.6,583.9 L316.0,586.5 L319.6,594.3 L322.6,585.5 L324.0,581.3 L325.4,585.5 L329.1,594.5 L332.4,586.5 L333.9,582.2 L335.4,586.5 L340.0,594.6 L343.0,595.0 L343.0,600.8 L240.0,600.8 Z" fill="#000" stroke="none"/><path d="M240.0,597.9 L243.4,597.9 L246.9,597.9 L250.3,597.9 L253.8,597.9 L257.2,597.9 L260.6,597.9 L264.1,597.9 L267.5,597.9 L270.9,597.9 L274.4,597.9 L277.8,597.9 L281.2,597.9 L284.7,597.9 L288.1,597.9 L291.6,597.9 L295.0,597.9 L298.4,597.9 L301.9,597.9 L305.3,597.9 L308.8,597.9 L312.2,597.9 L315.6,597.9 L319.1,597.9 L322.5,597.9 L325.9,597.9 L329.4,597.9 L332.8,597.9 L336.2,597.9 L339.7,597.9 L343.1,596.1 L347.6,584.3 L350.0,592.0 L353.4,597.4 L356.9,596.9 L360.3,590.9 L363.6,580.4 L367.2,591.5 L370.6,596.9 L374.1,597.6 L377.5,593.9 L380.9,586.1 L384.3,576.5 L387.8,586.1 L391.2,593.6 L394.7,597.4 L398.1,597.6 L401.6,594.5 L405.0,588.4 L408.4,579.2 L411.9,567.3 L415.3,575.7 L418.8,585.3 L422.2,592.1 L425.6,596.3 L429.1,597.9 L432.5,597.1 L435.9,594.0 L439.4,588.7 L442.8,581.3 L446.2,571.9 L449.7,560.7 L453.1,550.2 L456.6,562.7 L460.0,573.2 L463.4,581.7 L466.9,588.3 L470.3,593.2 L473.8,596.3 L477.2,597.8 L480.6,597.7 L484.1,596.0 L487.5,592.9 L490.9,588.5 L494.4,582.6 L497.8,575.5 L501.2,567.1 L504.7,557.5 L508.1,546.8 L511.6,535.0 L515.0,522.1 L516.4,519.4 L518.4,524.3 L521.9,536.7 L525.3,547.9 L528.8,557.8 L532.2,566.5 L535.6,574.1 L539.1,580.5 L542.5,585.9 L545.9,590.3 L549.4,593.6 L552.8,596.0 L556.2,597.4 L559.7,597.9 L563.1,597.5 L566.6,596.3 L570.0,594.2 L573.4,591.3 L576.9,587.7 L580.3,583.3 L583.8,578.1 L587.2,572.2 L590.6,565.7 L594.1,558.4 L597.5,550.5 L600.9,542.0 L604.4,532.8 L607.8,523.0 L611.2,512.7 L614.7,501.8 L618.1,490.3 L621.6,478.3 L625.0,465.7 L628.4,452.6 L632.7,439.7 L635.3,446.0 L638.8,459.1 L642.2,471.4 L645.6,483.1 L649.1,494.1 L652.5,504.5 L655.9,514.2 L659.4,523.3 L662.8,531.9 L666.2,539.8 L669.7,547.2 L673.1,554.0 L676.6,560.3 L680.0,566.1 L683.4,571.3 L686.9,576.0 L690.3,580.3 L693.8,584.0 L697.2,587.3 L700.6,590.1 L704.1,592.5 L707.5,594.4 L710.9,595.9 L714.4,597.0 L717.8,597.7 L721.2,597.9 L724.7,597.8 L728.1,597.2 L731.6,596.3 L735.0,595.0 L738.4,593.4 L741.9,591.4 L745.3,589.0 L748.8,586.3 L752.2,583.3 L755.6,579.9 L759.1,576.2 L762.5,572.2 L765.9,567.9 L769.4,563.2 L772.8,558.3 L776.3,553.1 L779.7,547.6 L783.1,541.8 L786.6,535.7 L790.0,529.4 L793.4,522.8 L796.9,515.9 L800.3,508.8 L803.8,501.4 L807.2,493.8 L810.6,485.9 L814.1,477.8 L817.5,469.5 L820.9,460.9 L824.4,452.1 L827.8,443.0 L831.2,433.8 L834.7,424.3 L838.1,414.7 L841.6,404.8 L845.0,394.7 L848.4,384.4 L851.9,373.9 L855.3,363.3 L858.8,352.4 L862.2,341.3 L865.6,330.1 L869.1,318.7 L872.5,307.1 L875.9,295.3 L879.4,283.3 L882.8,271.2 L886.2,258.9 L889.7,246.5 L893.1,233.8 L896.6,221.1 L900.0,208.1 L903.4,195.0 L906.9,181.8 L910.3,168.4 L913.8,154.8 L917.2,141.2 L920.6,125.8 L924.1,128.1 L927.5,141.8 L930.9,155.2 L934.4,168.3 L937.8,181.2 L941.3,193.8 L944.7,206.1 L948.1,218.2 L951.6,230.1 L955.0,241.7 L958.4,253.1 L961.9,264.2 L965.3,275.0 L968.8,285.7 L972.2,296.1 L975.6,306.3 L979.1,316.3 L982.5,326.0 L985.9,335.5 L989.4,344.8 L992.8,353.9 L996.2,362.8 L999.7,371.5 L1003.1,380.0 L1006.6,388.3 L1010.0,396.3 L1013.4,404.2 L1016.9,411.9 L1020.3,419.4 L1023.8,426.7 L1027.2,433.9 L1030.6,440.8 L1034.1,447.6 L1037.5,454.2 L1040.9,460.6 L1044.4,466.8 L1047.8,472.9 L1051.2,478.8 L1054.7,484.5 L1058.1,490.1 L1061.6,495.5 L1065.0,500.7 L1068.4,505.8 L1071.9,510.7 L1075.3,515.5 L1078.8,520.1 L1082.2,524.5 L1085.6,528.8 L1089.1,533.0 L1092.5,537.0 L1095.9,540.9 L1099.4,544.6 L1102.8,548.2 L1106.3,551.7 L1109.7,555.0 L1113.1,558.2 L1116.6,561.2 L1120.0,564.1 L1123.4,566.9 L1126.9,569.6 L1130.3,572.1 L1133.8,574.5 L1137.2,576.8 L1140.6,578.9 L1144.1,580.9 L1147.5,582.8 L1150.9,584.6 L1154.4,586.3 L1157.8,587.8 L1161.2,589.3 L1164.7,590.6 L1168.1,591.8 L1171.6,592.9 L1175.0,593.9 L1178.4,594.7 L1181.9,595.5 L1185.3,596.2 L1188.8,596.7 L1192.2,597.2 L1195.6,597.5 L1199.1,597.7 L1202.5,597.9 L1205.9,597.9 L1209.4,597.9 L1212.8,597.7 L1216.2,597.4 L1219.7,597.1 L1223.1,596.6 L1226.6,596.1 L1230.0,595.5 L1233.4,594.7 L1236.9,593.9 L1240.3,593.0 L1243.8,592.0 L1247.2,590.9 L1250.6,589.8 L1254.1,588.5 L1257.5,587.1 L1260.9,585.7 L1264.4,584.2 L1267.8,582.6 L1271.2,580.9 L1274.7,579.2 L1278.1,577.3 L1281.6,575.4 L1285.0,573.4 L1288.4,571.3 L1291.9,569.1 L1295.3,566.9 L1298.8,564.6 L1302.2,562.2 L1305.6,559.8 L1309.1,557.2 L1312.5,554.6 L1315.9,551.9 L1319.4,549.2 L1322.8,546.3 L1326.2,543.4 L1329.7,540.5 L1333.1,537.4 L1336.6,534.3 L1340.0,531.2 L1343.4,527.9 L1346.9,524.6 L1350.3,521.3 L1353.8,517.8 L1357.2,514.3 L1360.6,510.7 L1364.1,507.1 L1367.5,503.4 L1370.9,499.7 L1374.4,495.9 L1377.8,492.0 L1381.3,488.0 L1384.7,484.0 L1388.1,480.0 L1391.6,475.9 L1395.0,471.7 L1398.4,467.4 L1401.9,463.2 L1405.3,458.8 L1408.8,454.4 L1412.2,449.9 L1415.6,445.4 L1419.1,440.8 L1422.5,436.2 L1425.9,431.5 L1429.4,426.8 L1432.8,422.0 L1436.3,417.2 L1439.7,412.3 L1443.1,407.3 L1446.6,402.3 L1450.0,397.3 L1453.4,392.2 L1456.9,387.0 L1460.3,381.8 L1463.8,376.6 L1467.2,371.3 L1470.6,365.9 L1474.1,360.5 L1477.5,355.1 L1480.9,349.6 L1484.4,344.1 L1487.8,338.5 L1491.2,332.8 L1494.7,327.2 L1498.1,321.5 L1501.6,315.7 L1505.0,309.9 L1508.4,304.0 L1511.9,298.1 L1515.3,292.2 L1518.8,286.2 L1522.2,280.2 L1525.6,274.1 L1529.1,268.0 L1532.5,261.8 L1535.9,255.6 L1539.4,249.4 L1542.8,243.1 L1546.2,236.8 L1549.7,230.4 L1553.1,224.0 L1556.6,217.6 L1560.0,211.1 L1563.4,204.6 L1566.9,198.1 L1570.3,191.5 L1573.8,184.8 L1577.2,178.2 L1580.6,171.5 L1584.1,164.7 L1587.5,157.9 L1590.9,151.1 L1594.4,144.3 L1597.8,137.4 L1601.2,130.4 L1604.7,123.5 L1608.1,116.5 L1611.6,109.4 L1615.0,102.4" stroke="#000" stroke-width="5.8"/></g>
<path d="M240.0,615.7 L243.4,615.7 L246.9,615.7 L250.3,615.7 L253.8,615.7 L257.2,615.6 L260.6,615.6 L264.1,615.5 L267.5,615.5 L270.9,615.4 L274.4,615.3 L277.8,615.2 L281.2,615.1 L284.7,615.0 L288.1,614.9 L291.6,614.8 L295.0,614.7 L298.4,614.5 L301.9,614.4 L305.3,614.2 L308.8,614.1 L312.2,613.9 L315.6,613.7 L319.1,613.6 L322.5,613.3 L325.9,613.1 L329.4,613.0 L332.8,612.7 L336.2,612.4 L339.7,612.3 L343.1,612.0 L346.6,611.6 L350.0,611.4 L353.4,611.4 L356.9,611.1 L360.3,610.5 L363.8,610.0 L367.2,610.0 L370.6,610.2 L374.1,610.0 L377.5,609.2 L380.9,608.2 L384.4,607.5 L387.8,607.5 L391.2,608.1 L394.7,608.5 L398.1,608.3 L401.6,607.3 L405.0,605.7 L408.4,604.1 L411.9,603.2 L415.3,603.1 L418.8,603.9 L422.2,605.1 L425.6,606.1 L429.1,606.4 L432.5,605.9 L435.9,604.4 L439.4,602.2 L442.8,599.6 L446.2,597.1 L449.7,595.2 L453.1,594.3 L456.6,594.5 L460.0,595.7 L463.4,597.7 L466.9,599.9 L470.3,601.9 L473.8,603.3 L477.2,604.0 L480.6,603.7 L484.1,602.5 L487.5,600.5 L490.9,597.6 L494.4,594.1 L497.8,590.2 L501.2,586.2 L504.7,582.3 L508.1,578.8 L511.6,576.2 L515.0,574.5 L518.4,574.0 L521.9,574.7 L525.3,576.5 L528.8,579.2 L532.2,582.5 L535.6,586.1 L539.1,589.7 L542.5,593.1 L545.9,596.1 L549.4,598.5 L552.8,600.2 L556.2,601.3 L559.7,601.6 L563.1,601.2 L566.6,600.1 L570.0,598.3 L573.4,595.8 L576.9,592.6 L580.3,588.9 L583.8,584.6 L587.2,579.8 L590.6,574.6 L594.1,569.1 L597.5,563.2 L600.9,557.2 L604.4,551.2 L607.8,545.2 L611.2,539.3 L614.7,533.8 L618.1,528.8 L621.6,524.4 L625.0,520.8 L628.4,518.1 L631.9,516.4 L635.3,515.9 L638.8,516.4 L642.2,518.0 L645.6,520.7 L649.1,524.3 L652.5,528.6 L655.9,533.4 L659.4,538.7 L662.8,544.2 L666.2,549.8 L669.7,555.3 L673.1,560.7 L676.6,565.9 L680.0,570.9 L683.4,575.5 L686.9,579.7 L690.3,583.6 L693.8,587.0 L697.2,590.1 L700.6,592.8 L704.1,595.0 L707.5,596.8 L710.9,598.3 L714.4,599.3 L717.8,599.9 L721.2,600.2 L724.7,600.0 L728.1,599.5 L731.6,598.6 L735.0,597.3 L738.4,595.7 L741.9,593.7 L745.3,591.4 L748.8,588.7 L752.2,585.7 L755.6,582.4 L759.1,578.8 L762.5,574.8 L765.9,570.6 L769.4,566.1 L772.8,561.3 L776.3,556.2 L779.7,550.9 L783.1,545.2 L786.6,539.4 L790.0,533.3 L793.4,526.9 L796.9,520.3 L800.3,513.5 L803.8,506.5 L807.2,499.3 L810.6,491.8 L814.1,484.2 L817.5,476.5 L820.9,468.5 L824.4,460.4 L827.8,452.2 L831.2,443.8 L834.7,435.4 L838.1,426.8 L841.6,418.2 L845.0,409.5 L848.4,400.7 L851.9,391.9 L855.3,383.1 L858.8,374.4 L862.2,365.6 L865.6,357.0 L869.1,348.4 L872.5,340.0 L875.9,331.7 L879.4,323.6 L882.8,315.8 L886.2,308.2 L889.7,300.9 L893.1,294.1 L896.6,287.6 L900.0,281.6 L903.4,276.0 L906.9,271.1 L910.3,266.7 L913.8,263.0 L917.2,260.1 L920.6,257.8 L924.1,256.4 L927.5,255.7 L930.9,255.9 L934.4,256.9 L937.8,258.8 L941.3,261.5 L944.7,264.9 L948.1,269.1 L951.6,273.9 L955.0,279.4 L958.4,285.4 L961.9,291.9 L965.3,298.8 L968.8,306.1 L972.2,313.6 L975.6,321.3 L979.1,329.2 L982.5,337.2 L985.9,345.2 L989.4,353.3 L992.8,361.3 L996.2,369.3 L999.7,377.3 L1003.1,385.2 L1006.6,392.9 L1010.0,400.6 L1013.4,408.1 L1016.9,415.5 L1020.3,422.7 L1023.8,429.8 L1027.2,436.8 L1030.6,443.6 L1034.1,450.2 L1037.5,456.7 L1040.9,463.0 L1044.4,469.2 L1047.8,475.2 L1051.2,481.0 L1054.7,486.7 L1058.1,492.3 L1061.6,497.6 L1065.0,502.8 L1068.4,507.9 L1071.9,512.8 L1075.3,517.5 L1078.8,522.1 L1082.2,526.6 L1085.6,530.9 L1089.1,535.1 L1092.5,539.1 L1095.9,542.9 L1099.4,546.7 L1102.8,550.3 L1106.3,553.7 L1109.7,557.0 L1113.1,560.2 L1116.6,563.2 L1120.0,566.1 L1123.4,568.9 L1126.9,571.6 L1130.3,574.1 L1133.8,576.5 L1137.2,578.8 L1140.6,580.9 L1144.1,582.9 L1147.5,584.8 L1150.9,586.6 L1154.4,588.3 L1157.8,589.8 L1161.2,591.3 L1164.7,592.6 L1168.1,593.8 L1171.6,594.9 L1175.0,595.9 L1178.4,596.7 L1181.9,597.5 L1185.3,598.2 L1188.8,598.7 L1192.2,599.2 L1195.6,599.5 L1199.1,599.7 L1202.5,599.9 L1205.9,599.9 L1209.4,599.9 L1212.8,599.7 L1216.2,599.4 L1219.7,599.1 L1223.1,598.6 L1226.6,598.1 L1230.0,597.5 L1233.4,596.7 L1236.9,595.9 L1240.3,595.0 L1243.8,594.0 L1247.2,592.9 L1250.6,591.8 L1254.1,590.5 L1257.5,589.1 L1260.9,587.7 L1264.4,586.2 L1267.8,584.6 L1271.2,582.9 L1274.7,581.2 L1278.1,579.3 L1281.6,577.4 L1285.0,575.4 L1288.4,573.3 L1291.9,571.1 L1295.3,568.9 L1298.8,566.6 L1302.2,564.2 L1305.6,561.8 L1309.1,559.2 L1312.5,556.6 L1315.9,553.9 L1319.4,551.2 L1322.8,548.3 L1326.2,545.4 L1329.7,542.5 L1333.1,539.4 L1336.6,536.3 L1340.0,533.2 L1343.4,529.9 L1346.9,526.6 L1350.3,523.3 L1353.8,519.8 L1357.2,516.3 L1360.6,512.8 L1364.1,509.1 L1367.5,505.4 L1370.9,501.7 L1374.4,497.9 L1377.8,494.0 L1381.3,490.0 L1384.7,486.0 L1388.1,482.0 L1391.6,477.9 L1395.0,473.7 L1398.4,469.4 L1401.9,465.2 L1405.3,460.8 L1408.8,456.4 L1412.2,451.9 L1415.6,447.4 L1419.1,442.8 L1422.5,438.2 L1425.9,433.5 L1429.4,428.8 L1432.8,424.0 L1436.3,419.2 L1439.7,414.3 L1443.1,409.3 L1446.6,404.3 L1450.0,399.3 L1453.4,394.2 L1456.9,389.0 L1460.3,383.8 L1463.8,378.6 L1467.2,373.3 L1470.6,367.9 L1474.1,362.5 L1477.5,357.1 L1480.9,351.6 L1484.4,346.1 L1487.8,340.5 L1491.2,334.9 L1494.7,329.2 L1498.1,323.5 L1501.6,317.7 L1505.0,311.9 L1508.4,306.0 L1511.9,300.1 L1515.3,294.2 L1518.8,288.2 L1522.2,282.2 L1525.6,276.1 L1529.1,270.0 L1532.5,263.8 L1535.9,257.6 L1539.4,251.4 L1542.8,245.1 L1546.2,238.8 L1549.7,232.5 L1553.1,226.1 L1556.6,219.6 L1560.0,213.1 L1563.4,206.6 L1566.9,200.1 L1570.3,193.5 L1573.8,186.8 L1577.2,180.2 L1580.6,173.5 L1584.1,166.7 L1587.5,159.9 L1590.9,153.1 L1594.4,146.3 L1597.8,139.4 L1601.2,132.5 L1604.7,125.5 L1608.1,118.5 L1611.6,111.5 L1615.0,104.4" stroke="#00f" stroke-width="5.8"/>
</g>
<line x1="922.5" y1="691" x2="922.5" y2="108" stroke="#000" stroke-width="7" stroke-dasharray="6 16"/>
<line x1="632.5" y1="691" x2="632.5" y2="108" stroke="#000" stroke-width="5" stroke-dasharray="5.3 13.03"/>
<line x1="516.5" y1="691" x2="516.5" y2="108" stroke="#000" stroke-width="5" stroke-dasharray="5.3 13.03"/>
<line x1="452.5" y1="691" x2="452.5" y2="108" stroke="#000" stroke-width="5" stroke-dasharray="5.3 13.03"/>
<line x1="412.5" y1="691" x2="412.5" y2="108" stroke="#000" stroke-width="5" stroke-dasharray="5.3 13.03"/>
<path d="M240,691 v-37 M240,108 v37 M377.5,691 v-19 M377.5,108 v19 M515,691 v-37 M515,108 v37 M652.5,691 v-19 M652.5,108 v19 M790,691 v-37 M790,108 v37 M927.5,691 v-19 M927.5,108 v19 M1065,691 v-37 M1065,108 v37 M1202.5,691 v-19 M1202.5,108 v19 M1340,691 v-37 M1340,108 v37 M1477.5,691 v-19 M1477.5,108 v19 M1615,691 v-37 M1615,108 v37" stroke="#000" stroke-width="5.6" fill="none"/>
<path d="M240,691.00 h37 M1615,691.00 h-37 M240,593.83 h19 M1615,593.83 h-19 M240,496.67 h37 M1615,496.67 h-37 M240,399.50 h19 M1615,399.50 h-19 M240,302.33 h37 M1615,302.33 h-37 M240,205.17 h19 M1615,205.17 h-19 M240,108.00 h37 M1615,108.00 h-37" stroke="#000" stroke-width="5.6" fill="none"/>
<rect x="240" y="108" width="1375" height="583" fill="none" stroke="#000" stroke-width="5.7"/>
<g transform="translate(0,0.40)" font-family='"Liberation Serif", "DejaVu Serif", serif' font-size="67.8" fill="#000" style="font-kerning:none;font-variant-ligatures:none">
<text transform="translate(240.00,755.30) scale(0.985,1)" text-anchor="middle" font-size="69">0</text>
<text transform="translate(515.00,755.30) scale(0.985,1)" text-anchor="middle" font-size="69">2</text>
<text transform="translate(790.00,755.30) scale(0.985,1)" text-anchor="middle" font-size="69">4</text>
<text transform="translate(1065.00,755.30) scale(0.985,1)" text-anchor="middle" font-size="69">6</text>
<text transform="translate(1340.00,755.30) scale(0.985,1)" text-anchor="middle" font-size="69">8</text>
<text transform="translate(1615.00,755.30) scale(0.985,1)" text-anchor="middle" font-size="69">10</text>
<text transform="translate(224.00,714.00) scale(0.985,1)" text-anchor="end" font-size="69">12.0</text>
<text transform="translate(224.00,519.67) scale(0.985,1)" text-anchor="end" font-size="69">12.3</text>
<text transform="translate(224.00,325.33) scale(0.985,1)" text-anchor="end" font-size="69">12.6</text>
<text transform="translate(224.00,131.00) scale(0.985,1)" text-anchor="end" font-size="69">12.9</text>
<text transform="translate(930.00,57.20) scale(0.976,1)" text-anchor="middle">(c)</text>
<text transform="translate(928.00,820.40) scale(0.988,1)" text-anchor="middle">B (Tesla)</text>
<text transform="translate(74.80,514.60) rotate(-90) scale(0.976,1)"><tspan font-size="77">μ</tspan> <tspan x="59.02">(meV)</tspan></text>
<text transform="translate(1268.00,214.10) scale(0.981,1)">T = 5.0 K</text>
</g>
</g>
</svg>
</body>
</html>
